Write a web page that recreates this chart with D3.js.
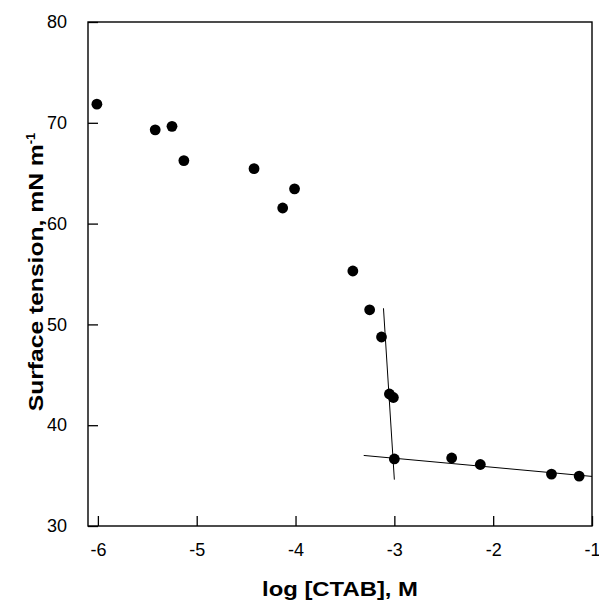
<!DOCTYPE html>
<html>
<head>
<meta charset="utf-8">
<script src="https://cdn.jsdelivr.net/npm/d3@7"></script>
<style>
  body { margin: 0; background: #fff; }
  text { font-family: "Liberation Sans", Arial, sans-serif; fill: #000; }
</style>
</head>
<body>
<script>
// data
var logConc = [-6.01, -5.42, -5.25, -5.13, -4.42, -4.13, -4.01, -3.42, -3.25, -3.13, -3.05, -3.01, -3.00, -2.42, -2.13, -1.41, -1.13];
var tension = [71.85, 69.3, 69.65, 66.25, 65.45, 61.55, 63.45, 55.3, 51.45, 48.75, 43.1, 42.75, 36.65, 36.75, 36.1, 35.15, 34.95];

// the two fitted lines: [x1, y1, x2, y2]
var steepLine = [-3.11, 51.6, -3.00, 34.6];
var flatLine = [-3.31, 37.0, -1.00, 34.92];

var xTicks = [-6, -5, -4, -3, -2, -1];
var yTicks = [30, 40, 50, 60, 70, 80];

//setup graph size
var margin = {top: 22, left: 88, right: 7, bottom: 77};
var W = 599, H = 603;
var width = W - margin.left - margin.right,
    height = H - margin.top - margin.bottom;

var xScale = d3.scaleLinear().domain([-6.1, -1]).range([0, width]);
var yScale = d3.scaleLinear().domain([30, 80]).range([height, 0]);

var svg = d3.select('body').append('svg')
    .attr('width', W)
    .attr('height', H);

var g = svg.append('g')
    .attr('transform', 'translate(' + margin.left + ',' + margin.top + ')');

//frame
g.append('rect')
    .attr('width', width)
    .attr('height', height)
    .attr('fill', 'none')
    .attr('stroke', '#000')
    .attr('stroke-width', 1.4);

//x axis, ticks pointing inside
var xAxis = d3.axisBottom(xScale)
    .tickValues(xTicks)
    .tickSize(-10)
    .tickPadding(17)
    .tickFormat(function(d) { return String(d); });

g.append('g')
    .attr('transform', 'translate(0,' + height + ')')
    .call(xAxis)
    .call(function(a) {
        a.select('.domain').remove();
        a.selectAll('line').attr('stroke-width', 1.3);
        a.selectAll('text').style('font-size', '18px').attr('font-family', null);
    });

//y axis
var yAxis = d3.axisLeft(yScale)
    .tickValues(yTicks)
    .tickSize(-10)
    .tickPadding(21)
    .tickFormat(function(d) { return String(d); });

g.append('g')
    .call(yAxis)
    .call(function(a) {
        a.select('.domain').remove();
        a.selectAll('line').attr('stroke-width', 1.3);
        a.selectAll('text').style('font-size', '18px').attr('font-family', null);
    });

//fit lines
[steepLine, flatLine].forEach(function(l) {
    g.append('line')
        .attr('x1', xScale(l[0])).attr('y1', yScale(l[1]))
        .attr('x2', xScale(l[2])).attr('y2', yScale(l[3]))
        .attr('stroke', '#000')
        .attr('stroke-width', 1);
});

//dots
g.selectAll('.dot')
    .data(logConc)
    .enter().append('circle')
    .attr('class', 'dot')
    .attr('r', 5.4)
    .attr('cx', function(d) { return xScale(d); })
    .attr('cy', function(d, i) { return yScale(tension[i]); })
    .attr('fill', '#000');

//axis titles
svg.append('text')
    .attr('x', margin.left + width / 2)
    .attr('y', 596)
    .attr('text-anchor', 'middle')
    .style('font-size', '21px')
    .style('font-weight', 'bold')
    .attr('textLength', 156)
    .attr('lengthAdjust', 'spacingAndGlyphs')
    .text('log [CTAB], M');

var yt = svg.append('text')
    .attr('transform', 'translate(43,' + 272 + ') rotate(-90)')
    .attr('text-anchor', 'middle')
    .style('font-size', '21px')
    .style('font-weight', 'bold');
yt.append('tspan').text('Surface tension, mN m')
    .attr('textLength', 267)
    .attr('lengthAdjust', 'spacingAndGlyphs');
yt.append('tspan').text('-1')
    .attr('dy', -8)
    .style('font-size', '13px');
</script>
</body>
</html>
